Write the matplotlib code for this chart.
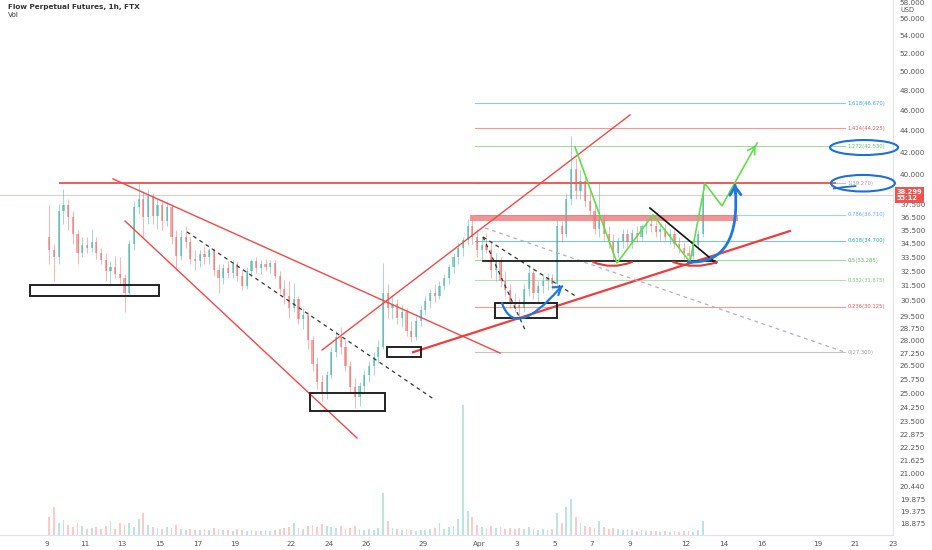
#! /bin/env python3
# plot.py
# redraws the FLOW perpetual 1h chart with the hand drawn analysis on top
# x axis = days since Mar 9 (00:00), candles are 6h bars

import matplotlib
matplotlib.use("Agg")
import matplotlib.pyplot as plt
import matplotlib.patches as mpatches
import matplotlib.transforms as mtransforms
from matplotlib.path import Path
from matplotlib.ticker import FixedLocator, NullLocator

# ---- candles (6h each, first one starts Mar 9 00:00) ----
first_open = 35.0
closes = [34.0, 33.5, 37.0, 37.5, 36.5, 35.2, 33.8, 34.4, 34.2, 34.6, 33.8, 33.3,
          32.5, 32.8, 32.3, 32.0, 31.0, 34.5, 37.3, 38.0, 36.5, 38.2, 36.6, 37.5,
          36.2, 37.3, 35.0, 33.6, 35.0, 34.6, 33.4, 33.2, 33.7, 33.5, 34.0, 32.6,
          32.0, 32.7, 32.4, 33.0, 32.2, 31.5, 32.5, 33.2, 32.7, 33.0, 32.8, 33.1,
          32.2, 31.3, 30.8, 30.0, 30.6, 29.3, 29.6, 28.0, 26.6, 25.6, 25.0, 26.0,
          27.3, 28.2, 27.6, 26.5, 25.3, 24.8, 25.4, 26.0, 26.5, 27.0, 27.6, 31.0,
          30.0, 30.3, 29.4, 29.8, 28.6, 28.2, 29.2, 29.9, 30.5, 31.0, 30.8, 31.5,
          32.0, 32.8, 33.5, 34.2, 34.8, 35.8, 35.0, 34.0, 34.4, 34.0, 32.6, 33.2,
          31.8, 31.2, 30.4, 30.2, 30.0, 31.3, 32.4, 31.0, 31.5, 31.8, 32.0, 31.6,
          35.8, 35.2, 38.0, 40.5, 38.6, 39.5, 37.8, 37.0, 35.6, 36.3, 35.2, 34.6,
          33.8, 34.7, 35.2, 34.6, 35.3, 35.0, 35.8, 36.0, 35.8, 35.4, 35.6, 35.0,
          35.2, 34.5, 34.2, 33.8, 33.6, 34.4, 35.2, 38.3]
highs = [37.5, 34.5, 37.6, 38.8, 38.0, 37.0, 35.5, 35.0, 35.0, 35.6, 35.0, 34.2,
         33.8, 33.2, 33.6, 33.5, 32.3, 34.8, 37.8, 39.3, 38.6, 38.8, 38.5, 38.0,
         38.0, 37.8, 37.6, 35.5, 35.5, 35.8, 35.0, 34.0, 34.0, 34.3, 34.2, 34.2,
         33.0, 33.0, 33.2, 33.3, 33.2, 32.6, 32.8, 33.4, 33.5, 33.3, 33.4, 33.3,
         33.3, 32.5, 31.9, 31.8, 31.7, 30.8, 30.0, 29.8, 28.3, 27.0, 26.0, 26.2,
         27.6, 28.6, 28.8, 28.0, 26.8, 25.8, 25.6, 26.3, 26.8, 27.3, 28.0, 33.1,
         31.6, 30.8, 30.6, 30.2, 30.0, 29.2, 29.5, 30.2, 30.8, 31.3, 31.6, 31.8,
         32.3, 33.0, 33.8, 34.6, 35.0, 36.4, 36.5, 35.6, 35.0, 35.3, 34.6, 33.8,
         33.5, 32.5, 31.6, 31.0, 30.6, 31.6, 33.0, 32.8, 31.8, 32.3, 32.4, 32.3,
         36.4, 36.2, 38.5, 43.5, 41.5, 40.4, 40.0, 38.6, 37.5, 39.3, 36.8, 35.8,
         35.2, 35.0, 35.6, 35.6, 35.6, 35.8, 36.0, 36.4, 36.6, 36.2, 36.0, 36.0,
         35.6, 35.5, 35.0, 34.6, 34.3, 34.6, 35.5, 39.3]
lows = [33.0, 31.8, 33.0, 36.0, 35.5, 34.5, 33.0, 33.5, 33.8, 33.9, 33.4, 33.0,
        31.8, 31.5, 32.0, 31.6, 29.8, 30.8, 34.0, 36.8, 35.0, 36.0, 36.0, 35.6,
        35.5, 35.8, 34.5, 32.6, 33.3, 34.2, 33.0, 32.6, 32.8, 33.0, 33.0, 32.2,
        31.0, 31.6, 32.0, 32.0, 31.8, 31.2, 31.3, 32.2, 32.4, 32.3, 32.5, 32.4,
        32.0, 31.0, 30.3, 29.4, 29.8, 29.0, 28.7, 27.5, 26.2, 25.2, 24.6, 24.7,
        25.8, 27.0, 27.2, 26.2, 25.0, 24.2, 24.3, 25.0, 25.6, 26.0, 26.7, 27.5,
        29.4, 29.3, 29.0, 28.8, 28.3, 27.9, 28.0, 28.9, 29.6, 30.0, 30.4, 30.6,
        31.2, 31.6, 32.4, 33.0, 33.6, 34.4, 34.5, 33.5, 33.2, 33.8, 32.0, 31.8,
        31.4, 30.8, 30.0, 29.8, 29.4, 29.8, 30.8, 30.6, 30.3, 31.0, 31.2, 31.3,
        31.4, 34.6, 35.0, 37.5, 38.0, 38.0, 37.3, 36.6, 35.2, 35.0, 34.8, 34.2,
        33.2, 33.5, 34.2, 34.3, 34.2, 34.6, 34.8, 35.2, 35.4, 35.0, 34.8, 34.8,
        34.5, 34.2, 33.8, 33.4, 33.2, 33.4, 34.0, 35.0]
# volume per 6h bar (k)
vol = [18, 28, 12, 15, 10, 8, 12, 9, 6, 7, 8, 6, 9, 14, 6, 12, 10, 12, 8, 16,
       22, 10, 8, 7, 6, 8, 7, 10, 6, 5, 6, 5, 5, 6, 5, 7, 6, 5, 5, 4,
       6, 5, 4, 5, 4, 4, 5, 4, 5, 6, 7, 8, 12, 7, 6, 9, 10, 8, 11, 9,
       8, 7, 9, 6, 7, 9, 6, 5, 6, 5, 7, 42, 14, 7, 6, 5, 6, 5, 4, 5,
       5, 6, 7, 12, 6, 8, 9, 16, 130, 24, 18, 10, 8, 7, 9, 7, 8, 6, 7, 6,
       7, 6, 8, 6, 5, 6, 5, 6, 22, 12, 28, 36, 18, 12, 9, 8, 7, 14, 8, 6,
       7, 6, 5, 6, 5, 4, 5, 4, 4, 4, 3, 4, 3, 4, 3, 4, 4, 3, 5, 14]
bar_days = 0.25
last_price = 38.299

# ---- axes ticks ----
price_ticks = [58, 56, 54, 52, 50, 48, 46, 44, 42, 40, 37.5, 36.5, 35.5, 34.5,
               33.5, 32.5, 31.5, 30.5, 29.5, 28.75, 28, 27.25, 26.5, 25.75, 25,
               24.25, 23.5, 22.875, 22.25, 21.625, 21, 20.44, 19.875, 19.375, 18.875]
date_ticks = [0, 2, 4, 6, 8, 10, 13, 15, 17, 20, 23, 25, 27, 29, 31, 34, 36, 38, 41, 43, 45]
date_labels = ["9", "11", "13", "15", "17", "19", "22", "24", "26", "29", "Apr",
               "3", "5", "7", "9", "12", "14", "16", "19", "21", "23"]

# ---- fibonacci extension (0 = 27.300, 1 = 39.270) ----
fib_ratio = [1.618, 1.414, 1.272, 1, 0.786, 0.618, 0.5, 0.382, 0.236, 0]
fib_price = [46.670, 44.225, 42.530, 39.270, 36.710, 34.700, 33.285, 31.875, 30.125, 27.300]
fib_color = ["#42a5f5", "#ef5350", "#66bb6a", "#9e9e9e", "#64b5f6",
             "#26a69a", "#66bb6a", "#81c784", "#ef5350", "#9e9e9e"]
fib_span = (22.77, 42.45)

# ---- drawings, as (day, price) ----
boxes = [((-0.90, 30.82), (5.96, 31.56)), ((13.99, 24.05), (17.98, 25.00)),
         ((18.09, 27.02), (19.89, 27.61)), ((23.83, 29.39), (27.13, 30.35))]
red_lines = [((3.51, 39.66), (24.10, 27.25)), ((4.15, 36.22), (16.49, 22.69)),
             ((14.63, 27.43), (31.01, 45.52))]
red_support = ((19.47, 27.30), (39.52, 35.45))
resistance = ((0.69, 39.27), (41.9, 39.27))
band = ((22.5, 36.19), (36.76, 36.66))
dash_black = [((7.45, 35.38), (20.64, 24.63)), ((23.19, 35.00), (25.43, 28.64)),
              ((23.19, 35.00), (28.19, 30.75))]
dash_grey = ((23.30, 35.68), (42.45, 27.30))
neckline = ((23.19, 33.2), (35.53, 33.2))
wedge_top = ((32.07, 37.25), (35.59, 33.09))
zigzag_d = [28.09, 30.32, 32.23, 34.20, 35.00, 35.90, 37.77]
zigzag_p = [42.47, 33.09, 36.70, 33.16, 39.27, 37.42, 42.85]
smiles = [((29.04, 33.16), (30.05, 32.60), (31.12, 33.16)),
          ((33.30, 33.16), (34.47, 32.60), (35.64, 33.16))]
blue_small = ((24.20, 30.35), (24.89, 28.0), (27.29, 31.36))
blue_big = ((34.10, 33.16), (36.97, 32.95), (36.60, 39.13))
ellipses = [((43.46, 42.44), 3.62, 1.37), ((43.40, 39.30), 3.40, 1.40)]

GREEN = "#26a69a"
RED = "#ef5350"


def quad(ax, pts, color, lw):
    path = Path(list(pts), [Path.MOVETO, Path.CURVE3, Path.CURVE3])
    ax.add_patch(mpatches.PathPatch(path, fill=False, edgecolor=color, lw=lw,
                                    capstyle="round", zorder=6))


def main():
    fig = plt.figure(figsize=(9.32, 5.5), dpi=100)
    ax = fig.add_axes([0, 15 / 550, 893 / 932, 535 / 550])
    vax = fig.add_axes([0, 15 / 550, 893 / 932, 535 / 550], sharex=ax)
    vax.set_zorder(0)
    ax.set_zorder(1)
    ax.patch.set_visible(False)

    n = len(closes)
    opens = [first_open] + closes[:-1]
    xs = [bar_days * (i + 0.5) for i in range(n)]
    cols = [GREEN if c >= o else RED for o, c in zip(opens, closes)]

    # volume (thin, faded like the hourly bars)
    vax.bar(xs, vol, width=bar_days * 0.4, color=cols, alpha=0.3, linewidth=0)
    vax.set_ylim(0, 535)
    vax.axis("off")

    # candles
    ax.vlines(xs, lows, highs, colors=cols, linewidth=0.6, alpha=0.5, zorder=2)
    bottoms = [min(o, c) for o, c in zip(opens, closes)]
    heights = [max(abs(c - o), 0.05) for o, c in zip(opens, closes)]
    ax.bar(xs, heights, bottom=bottoms, width=bar_days * 0.45, color=cols,
           alpha=0.5, linewidth=0, zorder=2)

    # current price line
    ax.axhline(last_price, color=RED, lw=0.6, alpha=0.4, zorder=1)

    # fib levels
    for r, p, c in zip(fib_ratio, fib_price, fib_color):
        ax.plot(fib_span, [p, p], color=c, lw=0.8, alpha=0.6, zorder=3)
        ax.text(fib_span[1] + 0.12, p, "%g(%.3f)" % (r, p), color=c, fontsize=3.8,
                va="center", ha="left", zorder=3)

    # red zone + lines
    (bx0, by0), (bx1, by1) = band
    ax.add_patch(mpatches.Rectangle((bx0, by0), bx1 - bx0, by1 - by0,
                                    color="#f07070", alpha=0.75, lw=0, zorder=4))
    ax.plot([resistance[0][0], resistance[1][0]], [resistance[0][1], resistance[1][1]],
            color="#f05a5a", lw=1.4, zorder=4)
    for a, b in red_lines:
        ax.plot([a[0], b[0]], [a[1], b[1]], color="#f04848", lw=1.0, zorder=4)
    ax.plot([red_support[0][0], red_support[1][0]], [red_support[0][1], red_support[1][1]],
            color="#f03c3c", lw=1.6, zorder=4)

    # dashed helpers
    for a, b in dash_black:
        ax.plot([a[0], b[0]], [a[1], b[1]], color="#333333", lw=0.9, ls=(0, (3, 3)), zorder=4)
    ax.plot([dash_grey[0][0], dash_grey[1][0]], [dash_grey[0][1], dash_grey[1][1]],
            color="#b0b0c8", lw=0.9, ls=(0, (3, 3)), zorder=4)

    # black lines and boxes
    ax.plot([neckline[0][0], neckline[1][0]], [neckline[0][1], neckline[1][1]],
            color="#111111", lw=1.2, zorder=5)
    ax.plot([wedge_top[0][0], wedge_top[1][0]], [wedge_top[0][1], wedge_top[1][1]],
            color="#111111", lw=1.2, zorder=5)
    for (x0, y0), (x1, y1) in boxes:
        ax.add_patch(mpatches.Rectangle((x0, y0), x1 - x0, y1 - y0, fill=False,
                                        edgecolor="#222222", lw=1.4, zorder=5))

    # red smiles
    for s in smiles:
        quad(ax, s, "#e53935", 1.5)

    # green projection
    ax.plot(zigzag_d, zigzag_p, color="#5ee04a", lw=1.2, zorder=6)
    ax.annotate("", xy=(zigzag_d[-1], zigzag_p[-1]),
                xytext=(zigzag_d[-1] - 0.25, zigzag_p[-1] - 0.7),
                arrowprops=dict(arrowstyle="->,head_length=0.5,head_width=0.3",
                                color="#5ee04a", lw=1.2), zorder=6)

    # blue curves
    quad(ax, blue_small, "#1e78e0", 1.6)
    ax.annotate("", xy=(27.55, 31.6), xytext=blue_small[2],
                arrowprops=dict(arrowstyle="->,head_length=0.5,head_width=0.35",
                                color="#1e78e0", lw=1.6), zorder=6)
    quad(ax, blue_big, "#1e78e0", 2.0)
    ax.annotate("", xy=(36.58, 39.45), xytext=(36.62, 38.2),
                arrowprops=dict(arrowstyle="->,head_length=0.6,head_width=0.4",
                                color="#1e78e0", lw=2.0), zorder=6)

    # ellipses around targets
    for (cx, cy), w, h in ellipses:
        ax.add_patch(mpatches.Ellipse((cx, cy), w, h, fill=False, edgecolor="#1e6fd9",
                                      lw=1.5, zorder=6, clip_on=False))
    ax.plot([41.85, 42.3, 43.0], [38.85, 38.95, 39.05], color="#1e6fd9", lw=1.3, zorder=6)

    # axes
    ax.set_yscale("log")
    ax.set_ylim(18.41, 58.32)
    ax.set_xlim(-2.5, 45.0)
    ax.yaxis.set_major_locator(FixedLocator(price_ticks))
    ax.yaxis.set_minor_locator(NullLocator())
    ax.set_yticklabels(["%.3f" % t for t in price_ticks])
    ax.yaxis.tick_right()
    ax.tick_params(axis="y", length=0, pad=5, labelsize=5.2, labelcolor="#555555")
    ax.set_xticks(date_ticks)
    ax.set_xticklabels(date_labels)
    ax.tick_params(axis="x", length=0, pad=4, labelsize=5.2, labelcolor="#555555")
    for s in ["top", "left"]:
        ax.spines[s].set_visible(False)
    for s in ["right", "bottom"]:
        ax.spines[s].set_color("#e0e3eb")
        ax.spines[s].set_linewidth(0.8)

    # price tag
    trans = mtransforms.blended_transform_factory(ax.transAxes, ax.transData)
    ax.text(1.004, last_price, "38.299\n55:12", transform=trans, fontsize=4.8,
            color="white", fontweight="bold", va="center", ha="left", linespacing=1.1,
            bbox=dict(boxstyle="square,pad=0.25", fc=RED, ec="none"), clip_on=False, zorder=10)
    ax.text(1.008, 57.1, "USD", transform=trans, fontsize=4.8, color="#555555",
            va="center", ha="left", clip_on=False)

    # header
    fig.text(8 / 932, 1 - 7 / 550, "Flow Perpetual Futures, 1h, FTX", fontsize=5.2,
             color="#333333", fontweight="bold", va="center")
    fig.text(8 / 932, 1 - 15 / 550, "Vol", fontsize=5.2, color="#333333", va="center")

    fig.savefig("out.png", dpi=100)


if __name__ == "__main__":
    main()
